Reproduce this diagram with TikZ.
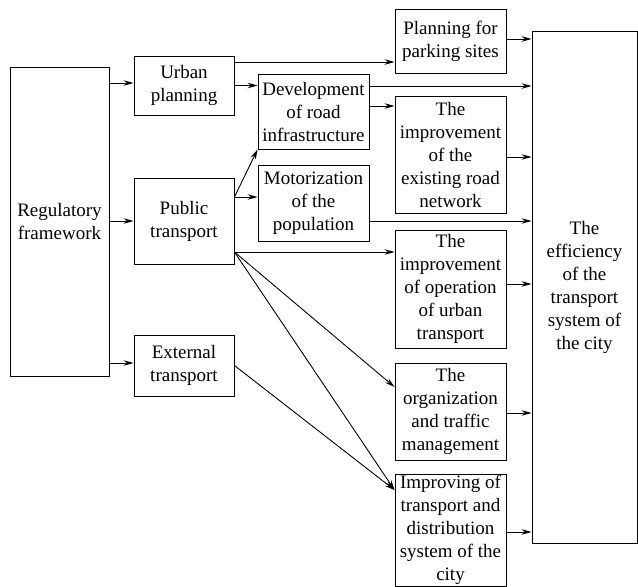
\documentclass[tikz,border=0pt]{standalone}
\usepackage{fontspec}
\setmainfont{Liberation Serif}
\newfontfamily\boxfont{Liberation Serif}
\usetikzlibrary{arrows.meta}
\begin{document}
\begin{tikzpicture}[x=1pt,y=-1pt,
  box/.style={draw,line width=0.9pt,align=center,inner sep=1pt,
    font=\boxfont\fontsize{19}{23}\selectfont},
  arr/.style={line width=0.9pt,-{Stealth[length=10pt,width=5.5pt,inset=3.5pt]}}]
\useasboundingbox (0,0) rectangle (638,587);
\node[box,minimum width=99pt,minimum height=309pt] (reg) at (59.5,221.5) {Regulatory\\framework};
\node[box,minimum width=100pt,minimum height=59pt] (urban) at (184,85.5) {Urban\\planning};
\node[box,minimum width=100pt,minimum height=86pt] (public) at (184,221) {Public\\transport};
\node[box,minimum width=100pt,minimum height=61pt] (external) at (184,365.5) {External\\transport};
\node[box,minimum width=111pt,minimum height=75pt] (dev) at (313.5,111.5) {Development\\of road\\infrastructure};
\node[box,minimum width=111pt,minimum height=76pt] (motor) at (313.5,203) {Motorization\\of the\\population};
\node[box,minimum width=111pt,minimum height=64pt] (parking) at (450.5,41) {Planning for\\parking sites};
\node[box,minimum width=111pt,minimum height=117pt] (exist) at (450.5,154.5) {The\\improvement\\of the\\existing road\\network};
\node[box,minimum width=111pt,minimum height=118pt] (oper) at (450.5,289) {The\\improvement\\of operation\\of urban\\transport};
\node[box,minimum width=111pt,minimum height=97pt] (organ) at (450.5,411.5) {The\\organization\\and traffic\\management};
\node[box,minimum width=111pt,minimum height=112pt] (impr) at (450.5,530) {Improving of\\transport and\\distribution\\system of the\\city};
\node[box,minimum width=105pt,minimum height=512pt] (eff) at (584.5,287) {The\\efficiency\\of the\\transport\\system of\\the city};
% regulatory framework
\coordinate (a1) at ([yshift=2.5pt]urban.west);
\draw[arr] (reg.east |- a1) -- (a1);
\draw[arr] (reg.east |- public.west) -- (public.west);
\coordinate (a3) at ([yshift=2.5pt]external.west);
\draw[arr] (reg.east |- a3) -- (a3);
% urban planning
\coordinate (a4) at ([yshift=23.5pt]urban.east);
\draw[arr] (a4) -- (parking.west |- a4);
\draw[arr] (urban.east) -- (dev.west |- urban.east);
% development
\coordinate (a6) at ([yshift=25.5pt]dev.east);
\draw[arr] (a6) -- (eff.west |- a6);
\coordinate (a7) at ([yshift=5.5pt]dev.east);
\draw[arr] (a7) -- (exist.west |- a7);
% public transport
\coordinate (p1) at ([yshift=24pt]public.east);
\draw[arr] (p1) -- (dev.south west);
\draw[arr] (p1) -- (motor.west |- p1);
\coordinate (p2) at ([yshift=-31pt]public.east);
\draw[arr] (p2) -- (oper.west |- p2);
\coordinate (o1) at ([yshift=24.5pt]organ.west);
\draw[arr] (p2) -- (o1);
\coordinate (i1) at ([yshift=40pt]impr.west);
\draw[arr] (p2) -- (i1);
\draw[arr] (external.east) -- (i1);
% into efficiency
\coordinate (e1) at ([yshift=2pt]parking.east);
\draw[arr] (e1) -- (eff.west |- e1);
\coordinate (e2) at ([yshift=-2.5pt]exist.east);
\draw[arr] (e2) -- (eff.west |- e2);
\coordinate (e3) at ([yshift=-18pt]motor.east);
\draw[arr] (e3) -- (eff.west |- e3);
\coordinate (e4) at ([yshift=5pt]oper.east);
\draw[arr] (e4) -- (eff.west |- e4);
\coordinate (e5) at ([yshift=-1.5pt]organ.east);
\draw[arr] (e5) -- (eff.west |- e5);
\coordinate (e6) at ([yshift=-2pt]impr.east);
\draw[arr] (e6) -- (eff.west |- e6);
\end{tikzpicture}
\end{document}
